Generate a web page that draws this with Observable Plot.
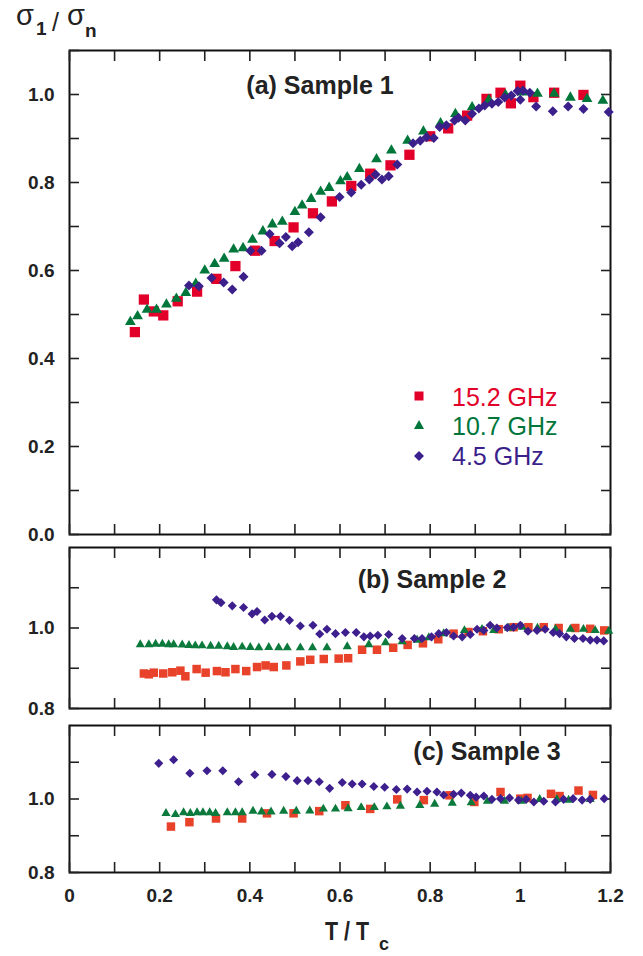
<!DOCTYPE html>
<html><head><meta charset="utf-8">
<script src="https://cdn.jsdelivr.net/npm/d3@7"></script>
<script src="https://cdn.jsdelivr.net/npm/@observablehq/plot@0.6"></script>
<style>
body{margin:0;background:#fff;}
#wrap{position:relative;width:643px;height:956px;overflow:hidden;font-family:"Liberation Sans",Arial,sans-serif;}
.panel{position:absolute;left:0;}
#overlay{position:absolute;left:0;top:0;pointer-events:none;}
</style></head>
<body>
<div id="wrap">
  <div id="pa" class="panel" style="top:0px"></div>
  <div id="pb" class="panel" style="top:541px"></div>
  <div id="pc" class="panel" style="top:718px"></div>
  <svg id="overlay" width="643" height="956" font-family="Liberation Sans, Arial, sans-serif">
    <text x="16" y="25" font-size="29" fill="#222">σ</text>
    <text x="36" y="35" font-size="19" font-weight="bold" fill="#222">1</text>
    <text x="52" y="31" font-size="25" fill="#222">/</text>
    <text x="67" y="25" font-size="29" fill="#222">σ</text>
    <text x="85" y="37" font-size="19" font-weight="bold" fill="#222">n</text>

    <text x="320" y="94" font-size="25" font-weight="bold" text-anchor="middle" fill="#222">(a) Sample 1</text>
    <text x="432" y="588" font-size="25" font-weight="bold" text-anchor="middle" fill="#222">(b) Sample 2</text>
    <text x="487" y="760" font-size="25" font-weight="bold" text-anchor="middle" fill="#222">(c) Sample 3</text>

    <rect x="414.5" y="391.5" width="9" height="9" fill="#e2002a"/>
    <polygon points="419,420 424,429 414,429" fill="#00763b"/>
    <polygon points="419,451 424,456 419,461 414,456" fill="#3b1f8b"/>
    <text x="452" y="406" font-size="25" fill="#e2002a">15.2 GHz</text>
    <text x="452" y="435" font-size="25" fill="#00763b">10.7 GHz</text>
    <text x="452" y="465" font-size="25" fill="#3b1f8b">4.5 GHz</text>

    <text x="325" y="940" font-size="26" font-weight="bold" fill="#222" textLength="44" lengthAdjust="spacingAndGlyphs">T / T</text>
    <text x="379" y="950" font-size="18" font-weight="bold" fill="#222">c</text>
  </svg>
</div>
<script>
// ---- tick values ----
const xTicks = [0, 0.1, 0.2, 0.3, 0.4, 0.5, 0.6, 0.7, 0.8, 0.9, 1.0, 1.1, 1.2];
const xLabelTicks = [0, 0.2, 0.4, 0.6, 0.8, 1.0, 1.2];
const yTicksA = [0, 0.1, 0.2, 0.3, 0.4, 0.5, 0.6, 0.7, 0.8, 0.9, 1.0, 1.1];
const yLabelTicksA = [0, 0.2, 0.4, 0.6, 0.8, 1.0];
const yTicksBC = [0.8, 0.9, 1.0, 1.1];
const yLabelTicksBC = [0.8, 1.0];
const seriesNames = ["15.2 GHz", "10.7 GHz", "4.5 GHz"];

// ---- (a) Sample 1 ----
const a152x = [0.145,0.165,0.187,0.208,0.240,0.283,0.326,0.368,0.412,0.455,0.497,0.540,0.582,0.625,0.667,0.712,0.754,0.800,0.840,0.882,0.925,0.956,0.979,1.000,1.029,1.075,1.140];
const a152y = [0.460,0.534,0.507,0.498,0.530,0.552,0.581,0.610,0.645,0.667,0.698,0.730,0.757,0.792,0.820,0.839,0.863,0.905,0.923,0.952,0.990,1.004,0.980,1.020,0.994,1.004,0.999];
const a107x = [0.135,0.151,0.172,0.193,0.215,0.237,0.258,0.280,0.300,0.322,0.343,0.364,0.385,0.406,0.429,0.450,0.472,0.500,0.516,0.536,0.557,0.576,0.601,0.616,0.643,0.681,0.714,0.750,0.785,0.823,0.856,0.893,0.930,0.967,1.004,1.038,1.075,1.111,1.148,1.183];
const a107y = [0.483,0.496,0.511,0.511,0.523,0.536,0.549,0.570,0.600,0.615,0.627,0.648,0.651,0.670,0.689,0.705,0.711,0.733,0.748,0.763,0.779,0.788,0.803,0.812,0.831,0.853,0.873,0.895,0.916,0.935,0.956,0.971,0.988,0.999,1.005,1.002,1.002,0.993,0.990,0.986];
const a45x = [0.265,0.287,0.315,0.342,0.361,0.386,0.401,0.426,0.444,0.466,0.480,0.494,0.507,0.531,0.557,0.599,0.625,0.647,0.665,0.679,0.693,0.708,0.727,0.762,0.778,0.792,0.808,0.821,0.836,0.854,0.863,0.878,0.893,0.908,0.921,0.937,0.951,0.965,0.980,0.994,1.006,1.000,1.021,1.035,1.072,1.106,1.140,1.196];
const a45y = [0.566,0.564,0.583,0.573,0.557,0.586,0.645,0.645,0.683,0.662,0.676,0.655,0.664,0.687,0.721,0.767,0.777,0.795,0.807,0.818,0.807,0.814,0.841,0.889,0.895,0.903,0.901,0.926,0.930,0.941,0.947,0.941,0.956,0.968,0.975,0.979,0.983,0.993,0.998,1.008,1.009,0.988,1.004,0.973,0.962,0.973,0.967,0.960];

// ---- (b) Sample 2 ----
const b152x = [0.165,0.176,0.187,0.208,0.228,0.246,0.257,0.282,0.302,0.327,0.346,0.368,0.392,0.416,0.435,0.453,0.481,0.512,0.534,0.564,0.597,0.618,0.649,0.682,0.718,0.750,0.784,0.818,0.852,0.885,0.917,0.952,0.985,1.018,1.052,1.085,1.122,1.155,1.186];
const b152y = [0.887,0.885,0.889,0.887,0.890,0.894,0.880,0.898,0.889,0.893,0.890,0.898,0.893,0.903,0.907,0.903,0.907,0.917,0.921,0.923,0.924,0.925,0.946,0.946,0.951,0.958,0.962,0.972,0.986,0.990,0.992,0.997,1.002,1.002,1.002,1.000,1.000,0.998,0.994];
const b107x = [0.157,0.176,0.191,0.206,0.220,0.231,0.250,0.265,0.279,0.294,0.313,0.331,0.350,0.364,0.383,0.401,0.420,0.442,0.464,0.483,0.512,0.539,0.571,0.616,0.664,0.701,0.738,0.771,0.797,0.830,0.876,0.915,0.941,0.974,1.004,1.038,1.078,1.111,1.140,1.166,1.196];
const b107y = [0.959,0.959,0.960,0.960,0.959,0.959,0.958,0.957,0.956,0.956,0.955,0.955,0.954,0.952,0.953,0.952,0.951,0.952,0.951,0.951,0.951,0.951,0.951,0.954,0.959,0.964,0.966,0.970,0.976,0.986,0.994,0.997,0.994,1.000,1.002,1.000,0.997,0.997,0.997,0.994,0.992];
const b45x = [0.326,0.336,0.361,0.386,0.405,0.416,0.433,0.449,0.468,0.488,0.512,0.540,0.555,0.571,0.590,0.612,0.636,0.653,0.667,0.684,0.708,0.738,0.765,0.782,0.803,0.819,0.836,0.852,0.871,0.889,0.904,0.919,0.933,0.948,0.971,0.985,1.000,1.017,1.037,1.055,1.073,1.087,1.102,1.120,1.139,1.155,1.170,1.185];
const b45y = [1.070,1.063,1.055,1.051,1.035,1.041,1.020,1.029,1.029,1.019,1.005,1.007,0.985,0.997,0.986,0.989,0.989,0.978,0.980,0.982,0.984,0.974,0.974,0.974,0.978,0.986,0.989,0.980,0.978,0.984,0.997,0.994,1.007,1.000,1.001,1.002,1.007,0.992,0.994,0.997,0.989,0.986,0.978,0.974,0.974,0.970,0.970,0.968];

// ---- (c) Sample 3 ----
const c152x = [0.225,0.266,0.325,0.383,0.438,0.497,0.554,0.612,0.667,0.727,0.786,0.843,0.898,0.956,1.000,1.016,1.068,1.087,1.129,1.161];
const c152y = [0.925,0.937,0.947,0.947,0.961,0.961,0.967,0.983,0.973,0.999,0.997,1.010,0.992,1.019,1.001,1.003,1.014,1.008,1.023,1.011];
const c107x = [0.214,0.235,0.253,0.268,0.283,0.296,0.311,0.324,0.350,0.368,0.383,0.407,0.426,0.447,0.475,0.503,0.533,0.563,0.590,0.618,0.647,0.676,0.704,0.734,0.777,0.810,0.849,0.891,0.927,0.965,1.002,1.043,1.081,1.107,1.155];
const c107y = [0.961,0.958,0.963,0.961,0.963,0.963,0.963,0.961,0.963,0.963,0.963,0.967,0.965,0.965,0.967,0.967,0.968,0.973,0.973,0.974,0.977,0.977,0.979,0.981,0.983,0.986,0.989,0.990,0.994,0.994,0.994,0.999,0.999,0.997,0.999];
const c45x = [0.198,0.231,0.267,0.305,0.340,0.375,0.411,0.449,0.480,0.505,0.529,0.554,0.577,0.605,0.627,0.649,0.675,0.699,0.725,0.749,0.771,0.793,0.815,0.830,0.852,0.869,0.889,0.902,0.919,0.937,0.956,0.976,0.996,1.013,1.030,1.052,1.078,1.096,1.117,1.137,1.155,1.186];
const c45y = [1.097,1.107,1.070,1.077,1.077,1.047,1.066,1.067,1.061,1.050,1.050,1.047,1.029,1.045,1.041,1.041,1.034,1.032,1.026,1.027,1.019,1.021,1.019,1.011,1.013,1.016,1.010,1.005,1.008,0.999,1.001,1.003,0.997,0.999,0.992,0.994,0.992,0.999,1.001,0.997,0.999,1.001];

const colorsA = ["#e2002a", "#00763b", "#3b1f8b"];
const colorsBC = ["#e8422a", "#0b7a3c", "#3d1f8e"];
const symbols = ["square", "triangle", "diamond2"];

function rows(xs, ys, name) { return xs.map((x, i) => ({x, y: ys[i], series: name})); }
const inList = (arr, d) => arr.some(v => Math.abs(v - d) < 1e-6);

function panel({height, marginTop, marginBottom, yDomain, yTicks, yLabels, xLabels, sets, colors, sizes}) {
  const marks = [
    Plot.frame({stroke: "#111", strokeWidth: 2}),
    Plot.axisY({anchor: "left", ticks: yTicks, tickSize: -10, tickPadding: 25, strokeWidth: 1.6,
      tickFormat: d => inList(yLabels, d) ? d.toFixed(1) : "", label: null}),
    Plot.axisY({anchor: "right", ticks: yTicks, tickSize: -10, strokeWidth: 1.6, tickFormat: () => "", label: null}),
    Plot.axisX({anchor: "top", ticks: xTicks, tickSize: -10, strokeWidth: 1.6, tickFormat: () => "", label: null}),
    Plot.axisX({anchor: "bottom", ticks: xTicks, tickSize: -10, tickPadding: 26, strokeWidth: 1.6,
      tickFormat: d => (xLabels && inList(xLabelTicks, d)) ? String(+d.toFixed(1)) : "", label: null})
  ];
  sets.forEach((s, i) => {
    marks.push(Plot.dot(rows(s[0], s[1], seriesNames[i]), {x: "x", y: "y", symbol: () => symbols[i], fill: colors[i], r: sizes[i], stroke: "none"}));
  });
  return Plot.plot({
    width: 643, height, marginTop, marginBottom, marginLeft: 69, marginRight: 33,
    x: {domain: [0, 1.2]}, y: {domain: yDomain},
    symbol: {domain: symbols, range: symbols},
    style: {background: "transparent", overflow: "visible", fontFamily: "Liberation Sans, Arial, sans-serif", fontSize: "19px", fontWeight: "bold", color: "#222"},
    marks
  });
}

document.getElementById("pa").append(panel({
  height: 546, marginTop: 50, marginBottom: 12, yDomain: [0, 1.1],
  yTicks: yTicksA, yLabels: yLabelTicksA, xLabels: false,
  sets: [[a152x, a152y], [a107x, a107y], [a45x, a45y]], colors: colorsA, sizes: [5.8, 4.0, 4.5]
}));
document.getElementById("pb").append(panel({
  height: 177, marginTop: 6, marginBottom: 10, yDomain: [0.8, 1.2],
  yTicks: yTicksBC, yLabels: yLabelTicksBC, xLabels: false,
  sets: [[b152x, b152y], [b107x, b107y], [b45x, b45y]], colors: colorsBC, sizes: [4.8, 3.4, 4.1]
}));
document.getElementById("pc").append(panel({
  height: 238, marginTop: 7, marginBottom: 84, yDomain: [0.8, 1.2],
  yTicks: yTicksBC, yLabels: yLabelTicksBC, xLabels: true,
  sets: [[c152x, c152y], [c107x, c107y], [c45x, c45y]], colors: colorsBC, sizes: [4.8, 3.4, 4.1]
}));
</script>
</body></html>
